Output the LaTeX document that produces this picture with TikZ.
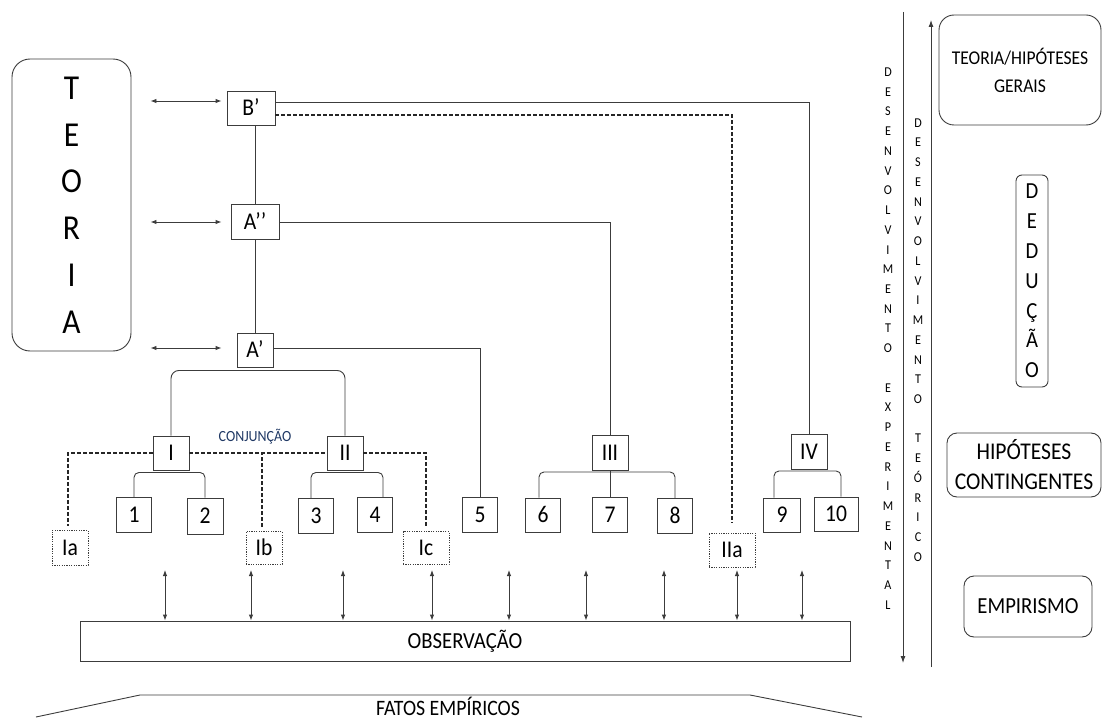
\documentclass[tikz,border=0pt]{standalone}
\usepackage{fontspec}
\setmainfont{Carlito}[FakeStretch=0.9]
\usetikzlibrary{arrows.meta}
\definecolor{navy}{RGB}{31,56,100}
\definecolor{edge}{RGB}{60,60,60}
\begin{document}
\begin{tikzpicture}[x=1pt,y=-1pt,
  lbl/.style={font=\fontsize{24}{24}\selectfont, text height=15.5pt, text depth=0pt},
  bx/.style={draw=edge, line width=0.9pt, inner sep=0pt, lbl},
  hbx/.style={bx, dash pattern=on 1.2pt off 1.2pt},
  ln/.style={draw=edge, line width=0.9pt},
  dsh/.style={draw=black!85, line width=1.4pt, dash pattern=on 4pt off 2pt},
  dbl/.style={ln, {Latex[length=6pt,width=4.5pt]}-{Latex[length=6pt,width=4.5pt]}},
  rbox/.style={draw=edge, line width=0.9pt, inner sep=0pt, align=center},
  vtext/.style={align=center, inner sep=0pt}
]
\useasboundingbox (0,0) rectangle (1103,722);

% TEORIA
\node[rbox, rounded corners=18pt, minimum width=119pt, minimum height=292pt,
      font=\fontsize{35}{46.8}\selectfont] (teoria) at (71.5,205) {T\\E\\O\\R\\I\\A};

% upper hierarchy
\node[bx, minimum width=48pt, minimum height=34pt] (Bp) at (251,108) {B’};
\node[bx, minimum width=48pt, minimum height=35pt] (App) at (255,222) {A’’};
\node[bx, minimum width=36pt, minimum height=34pt] (Ap) at (255,350) {A’};

\draw[dbl, shorten <=19pt, shorten >=5pt] ([yshift=7pt]teoria.east |- Bp.west) -- ([yshift=7pt]Bp.west);
\draw[dbl, shorten <=19pt, shorten >=9pt] (teoria.east |- App.west) -- (App.west);
\draw[dbl, shorten <=19pt, shorten >=15pt] ([yshift=2pt]teoria.east |- Ap.west) -- ([yshift=2pt]Ap.west);

% middle level
\node[bx, minimum width=36pt, minimum height=34pt] (I) at (171,453) {I};
\node[bx, minimum width=36pt, minimum height=34pt] (II) at (345,453) {II};
\node[bx, minimum width=36pt, minimum height=35pt] (III) at (610,453) {III};
\node[bx, minimum width=36pt, minimum height=35pt] (IV) at (809,452) {IV};

% leaves
\node[bx, minimum width=35pt, minimum height=35pt] (n1) at (134,515) {1};
\node[bx, minimum width=36pt, minimum height=36pt] (n2) at (205,516) {2};
\node[bx, minimum width=35pt, minimum height=35pt] (n3) at (316,516) {3};
\node[bx, minimum width=35pt, minimum height=35pt] (n4) at (375,515) {4};
\node[bx, minimum width=35pt, minimum height=35pt] (n5) at (480,515) {5};
\node[bx, minimum width=35pt, minimum height=34pt] (n6) at (543,515) {6};
\node[bx, minimum width=35pt, minimum height=35pt] (n7) at (610,515) {7};
\node[bx, minimum width=35pt, minimum height=35pt] (n8) at (675,516) {8};
\node[bx, minimum width=37pt, minimum height=34pt] (n9) at (782,515) {9};
\node[bx, minimum width=44pt, minimum height=34pt] (n10) at (836,514) {10};

% auxiliary hypotheses
\node[hbx, minimum width=36pt, minimum height=35pt] (Ia) at (70,548) {Ia};
\node[hbx, minimum width=36pt, minimum height=33pt] (Ib) at (264,548) {Ib};
\node[hbx, minimum width=46pt, minimum height=33pt] (Ic) at (426,548) {Ic};
\node[hbx, minimum width=46pt, minimum height=34pt] (IIa) at (732,550) {IIa};

\node[font=\fontsize{15.5}{15.5}\selectfont, text=navy, inner sep=0pt] (conj) at (255,437) {CONJUNÇÃO};

% solid connectors
\draw[ln] (App.north) -- (App.north |- Bp.south);
\draw[ln] (App.south) -- (App.south |- Ap.north);
\draw[ln] ([yshift=6pt]Bp.east) -| (IV.north);
\draw[ln] (App.east) -| (III.north);
\draw[ln] ([yshift=2pt]Ap.east) -| (n5.north);
\draw[ln, rounded corners=8pt] (I.north) |- ([yshift=-3pt]Ap.south) -| (II.north);
\draw[ln, rounded corners=5pt] (n1.north) |- ([yshift=-2pt]I.south) -| (n2.north);
\draw[ln, rounded corners=5pt] ([xshift=-5pt]n3.north) |- ([yshift=-2pt]II.south) -| ([xshift=8pt]n4.north);
\draw[ln, rounded corners=5pt] ([xshift=-4pt]n6.north) |- ([yshift=-1pt]III.south) -| (n8.north);
\draw[ln] (III.south) -- (n7.north);
\draw[ln, rounded corners=5pt] ([xshift=-8pt]n9.north) |- ([yshift=-1pt]IV.south) -| ([xshift=5pt]n10.north);

% dashed connectors
\draw[dsh, shorten >=10pt] ([yshift=-7pt]Bp.east) -| (IIa.north);
\draw[dsh, shorten >=4pt] (I.west) -| ([xshift=-2pt]Ia.north);
\draw[dsh] (I.east) -- (II.west);
\draw[dsh, shorten <=4pt] ([xshift=-2pt]Ib.north) -- ([xshift=-2pt]Ib.north |- I.east);
\draw[dsh, shorten >=4pt] (II.east) -| (Ic.north);

% observation
\node[draw=edge, line width=0.9pt, minimum width=770pt, minimum height=40pt,
      font=\fontsize{23}{23}\selectfont, inner sep=0pt] (obs) at (465,641) {OBSERVAÇÃO};
\foreach \x/\n in {165/a,251/b,343/c,432/d,509/e,586/f,664/g,737/h,802/i}{
  \coordinate (o\n) at (\x,570);
  \draw[dbl] (o\n) -- (o\n |- obs.north);
}

% empirical facts
\draw[ln] (36,717) -- (140,695) -- (750,695) -- (862,717);
\node[font=\fontsize{22}{22}\selectfont, inner sep=0pt] (fatos) at (448,706) {FATOS EMPÍRICOS};

% right side development lines
\coordinate (expTop) at (903,12);
\coordinate (expBot) at (903,663);
\draw[ln, -{Latex[length=7pt,width=5pt]}] (expTop) -- (expBot);
\coordinate (teoBot) at (931,667);
\coordinate (teoTop) at (931,20);
\draw[ln, -{Latex[length=7pt,width=5pt]}] (teoBot) -- (teoTop);

\node[vtext, font=\fontsize{13.5}{19.74}\selectfont] (dexp) at (888,338.5)
  {D\\E\\S\\E\\N\\V\\O\\L\\V\\I\\M\\E\\N\\T\\O\\~\\E\\X\\P\\E\\R\\I\\M\\E\\N\\T\\A\\L};
\node[vtext, font=\fontsize{13.5}{19.73}\selectfont] (dteo) at (918,340)
  {D\\E\\S\\E\\N\\V\\O\\L\\V\\I\\M\\E\\N\\T\\O\\~\\T\\E\\Ó\\R\\I\\C\\O};

% right side boxes
\node[rbox, rounded corners=15pt, minimum width=162pt, minimum height=110pt,
      font=\fontsize{19.5}{28}\selectfont] (tgeral) at (1020,70) {TEORIA/HIPÓTESES\\GERAIS};
\node[rbox, rounded corners=6pt, minimum width=32pt, minimum height=212pt,
      font=\fontsize{23}{29.8}\selectfont] (ded) at (1032,281) {D\\E\\D\\U\\Ç\\Ã\\O};
\node[rbox, rounded corners=10pt, minimum width=154pt, minimum height=64pt,
      font=\fontsize{24}{30}\selectfont] (hcont) at (1024,465) {HIPÓTESES\\CONTINGENTES};
\node[rbox, rounded corners=10pt, minimum width=128pt, minimum height=61pt,
      font=\fontsize{23}{23}\selectfont] (emp) at (1028,606.5) {EMPIRISMO};
\end{tikzpicture}
\end{document}
